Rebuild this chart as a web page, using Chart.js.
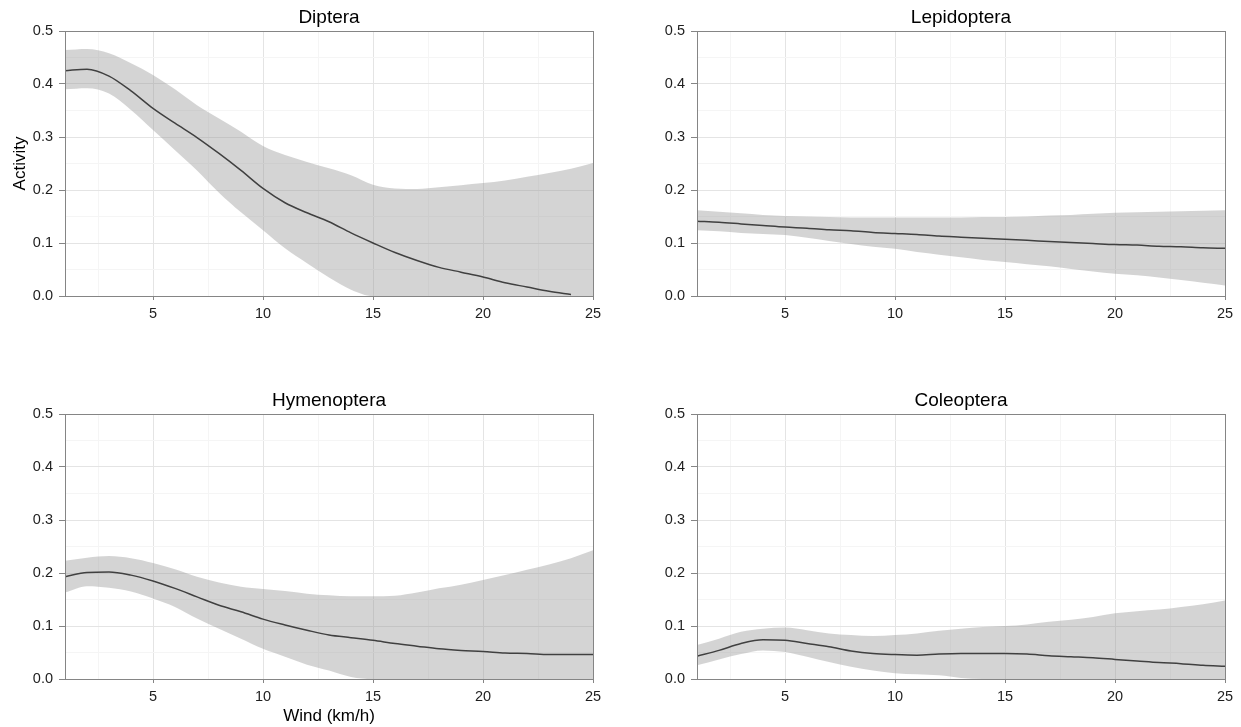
<!DOCTYPE html>
<html>
<head>
<meta charset="utf-8">
<script src="https://cdn.jsdelivr.net/npm/chart.js@4/dist/chart.umd.min.js"></script>
<style>
  html, body { margin: 0; padding: 0; background: #ffffff; }
  #wrap { position: relative; width: 1241px; height: 727px; overflow: hidden; background: #fff; }
  canvas { position: absolute; }
</style>
</head>
<body>
<div id="wrap">
  <canvas id="c0" width="620" height="340" style="left:0px;top:0px;width:620px;height:340px"></canvas>
  <canvas id="c1" width="621" height="340" style="left:620px;top:0px;width:621px;height:340px"></canvas>
  <canvas id="c2" width="620" height="344" style="left:0px;top:383px;width:620px;height:344px"></canvas>
  <canvas id="c3" width="621" height="344" style="left:620px;top:383px;width:621px;height:344px"></canvas>
</div>
<script>
// ---------------- data ----------------
const windKmh = [1,2,3,4,5,6,7,8,9,10,11,12,13,14,15,16,17,18,19,20,21,22,23,24,25];

const dipteraFit   = [0.425,0.428,0.415,0.387,0.354,0.326,0.299,0.269,0.237,0.203,0.176,0.157,0.140,0.119,0.100,0.082,0.067,0.054,0.045,0.036,0.025,0.017,0.009,0.003,null];
const dipteraUpper = [0.464,0.466,0.458,0.439,0.417,0.390,0.360,0.335,0.310,0.283,0.266,0.253,0.241,0.228,0.210,0.203,0.202,0.205,0.209,0.213,0.218,0.225,0.232,0.240,0.251];
const dipteraLower = [0.390,0.392,0.382,0.351,0.313,0.275,0.237,0.195,0.158,0.124,0.090,0.062,0.035,0.012,0,0,0,0,0,0,0,0,0,0,0];

const lepidopteraFit   = [0.141,0.139,0.136,0.133,0.130,0.128,0.125,0.123,0.120,0.118,0.116,0.113,0.111,0.109,0.107,0.105,0.103,0.101,0.099,0.097,0.096,0.094,0.093,0.091,0.090];
const lepidopteraUpper = [0.162,0.159,0.156,0.153,0.151,0.150,0.149,0.148,0.148,0.148,0.148,0.148,0.148,0.149,0.149,0.150,0.152,0.153,0.155,0.157,0.158,0.159,0.160,0.161,0.162];
const lepidopteraLower = [0.124,0.122,0.119,0.117,0.115,0.110,0.104,0.098,0.093,0.089,0.083,0.078,0.073,0.068,0.064,0.060,0.056,0.051,0.046,0.042,0.039,0.035,0.030,0.025,0.020];

const hymenopteraFit   = [0.193,0.201,0.202,0.196,0.185,0.171,0.155,0.139,0.127,0.113,0.102,0.092,0.083,0.078,0.073,0.067,0.062,0.057,0.054,0.052,0.049,0.048,0.046,0.046,0.046];
const hymenopteraUpper = [0.223,0.229,0.232,0.228,0.219,0.207,0.193,0.182,0.174,0.170,0.166,0.161,0.158,0.156,0.156,0.157,0.163,0.171,0.178,0.187,0.196,0.206,0.216,0.228,0.243];
const hymenopteraLower = [0.163,0.175,0.172,0.165,0.152,0.136,0.114,0.095,0.076,0.057,0.042,0.027,0.016,0.004,0,0,0,0,0,0,0,0,0,0,0];

const coleopteraFit   = [0.043,0.054,0.067,0.074,0.073,0.067,0.061,0.053,0.048,0.046,0.045,0.047,0.048,0.048,0.048,0.047,0.044,0.042,0.040,0.037,0.034,0.031,0.029,0.026,0.024];
const coleopteraUpper = [0.064,0.076,0.089,0.095,0.097,0.092,0.086,0.083,0.081,0.083,0.086,0.091,0.095,0.098,0.100,0.103,0.108,0.112,0.117,0.124,0.128,0.131,0.136,0.141,0.148];
const coleopteraLower = [0.026,0.037,0.047,0.054,0.051,0.042,0.032,0.023,0.016,0.011,0.009,0.007,0.002,0,0,0,0,0,0,0,0,0,0,0,0];

const panelTitles = ['Diptera', 'Lepidoptera', 'Hymenoptera', 'Coleoptera'];
const xTickValues = [2.5, 5, 7.5, 10, 12.5, 15, 17.5, 20, 22.5, 25];
const yTickValues = [0, 0.05, 0.1, 0.15, 0.2, 0.25, 0.3, 0.35, 0.4, 0.45, 0.5];
const yAxisTitle = 'Activity';
const xAxisTitle = 'Wind (km/h)';

// ---------------- drawing ----------------
const FONT = "Arial, 'Liberation Sans', sans-serif";
const FRAME = '#858585';
const TICKTEXT = '#1e1e1e';
const isMajorX = v => Math.abs(v / 5 - Math.round(v / 5)) < 1e-6;
const isMajorY = v => Math.abs(v * 10 - Math.round(v * 10)) < 1e-6;
const pts = arr => windKmh.map((x, i) => ({ x: x, y: arr[i] }));

const framePlugin = {
  id: 'frame',
  afterDatasetsDraw(chart) {
    const a = chart.chartArea, c = chart.ctx;
    const l = Math.round(a.left - 0.5) + 0.5, t = Math.round(a.top - 0.5) + 0.5;
    const r = Math.round(a.right - 0.5) + 0.5, b = Math.round(a.bottom - 0.5) + 0.5;
    c.save();
    c.strokeStyle = FRAME;
    c.lineWidth = 1;
    c.strokeRect(l, t, r - l, b - t);
    c.restore();
  }
};

function makePanel(id, title, fit, upper, lower, o) {
  new Chart(document.getElementById(id), {
    type: 'line',
    data: {
      datasets: [
        { data: pts(upper), fill: '+1', backgroundColor: 'rgba(153,153,153,0.42)', borderColor: 'transparent', borderWidth: 0, pointRadius: 0, cubicInterpolationMode: 'monotone' },
        { data: pts(lower), fill: false, borderColor: 'transparent', borderWidth: 0, pointRadius: 0, cubicInterpolationMode: 'monotone' },
        { data: pts(fit), fill: false, borderColor: '#000000', borderWidth: 1.5, pointRadius: 0, cubicInterpolationMode: 'monotone' }
      ]
    },
    options: {
      responsive: false,
      animation: false,
      events: [],
      layout: { padding: { left: 0, right: o.padRight, top: 0, bottom: 0 } },
      plugins: {
        legend: { display: false },
        tooltip: { enabled: false },
        title: {
          display: true, text: title, fullSize: false, color: '#000',
          font: { family: FONT, size: 19, weight: 'normal', lineHeight: 1.2 },
          padding: { top: 6, bottom: 2.2 }
        }
      },
      scales: {
        x: {
          type: 'linear', min: 1, max: 25,
          afterBuildTicks: s => { s.ticks = xTickValues.map(v => ({ value: v })); },
          afterFit: s => { s.height = o.xAxisHeight; },
          ticks: {
            autoSkip: false, maxRotation: 0, minRotation: 0, padding: 5,
            color: TICKTEXT, font: { family: FONT, size: 14.5 },
            callback: v => isMajorX(v) ? String(v) : ''
          },
          grid: {
            color: c => isMajorX(c.tick.value) ? '#e4e4e4' : '#f5f5f5',
            tickColor: c => isMajorX(c.tick.value) ? FRAME : 'rgba(0,0,0,0)',
            tickLength: 4, lineWidth: 1
          },
          border: { display: false },
          title: {
            display: !!o.xTitle, text: xAxisTitle, color: '#000',
            font: { family: FONT, size: 17, lineHeight: 1.2 },
            padding: { top: 0, bottom: 0 }
          }
        },
        y: {
          type: 'linear', min: 0, max: 0.5,
          afterBuildTicks: s => { s.ticks = yTickValues.map(v => ({ value: v })); },
          afterFit: s => { s.width = o.yAxisWidth; },
          ticks: {
            autoSkip: false, padding: 6,
            color: TICKTEXT, font: { family: FONT, size: 14.5 },
            callback: v => isMajorY(v) ? v.toFixed(1) : ''
          },
          grid: {
            color: c => isMajorY(c.tick.value) ? '#e4e4e4' : '#f5f5f5',
            tickColor: c => isMajorY(c.tick.value) ? FRAME : 'rgba(0,0,0,0)',
            tickLength: 6, lineWidth: 1
          },
          border: { display: false },
          title: {
            display: !!o.yTitle, text: yAxisTitle, color: '#000',
            font: { family: FONT, size: 17, lineHeight: 1.2 },
            padding: { top: 10, bottom: 0 }
          }
        }
      }
    },
    plugins: [framePlugin]
  });
}

makePanel('c0', panelTitles[0], dipteraFit, dipteraUpper, dipteraLower, { yAxisWidth: 65, xAxisHeight: 44, padRight: 27, yTitle: true, xTitle: false });
makePanel('c1', panelTitles[1], lepidopteraFit, lepidopteraUpper, lepidopteraLower, { yAxisWidth: 77, xAxisHeight: 44, padRight: 16, yTitle: false, xTitle: false });
makePanel('c2', panelTitles[2], hymenopteraFit, hymenopteraUpper, hymenopteraLower, { yAxisWidth: 65, xAxisHeight: 48, padRight: 27, yTitle: false, xTitle: true });
makePanel('c3', panelTitles[3], coleopteraFit, coleopteraUpper, coleopteraLower, { yAxisWidth: 77, xAxisHeight: 48, padRight: 16, yTitle: false, xTitle: false });
</script>
</body>
</html>
